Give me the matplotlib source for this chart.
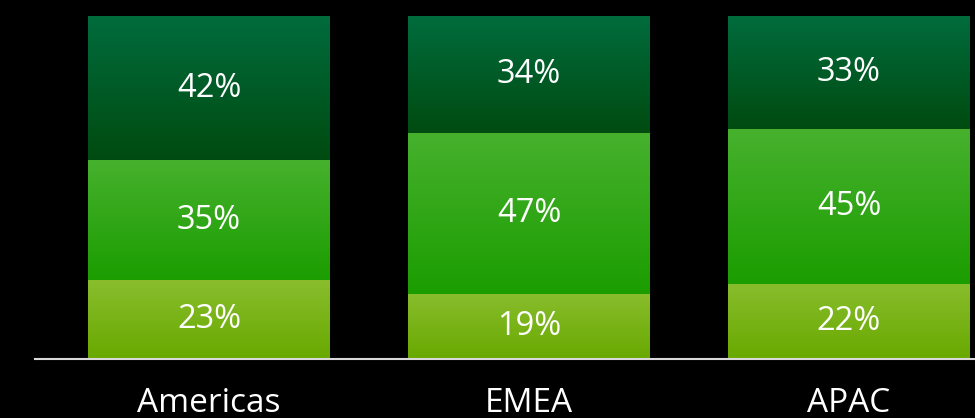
import numpy as np
import matplotlib.pyplot as plt
from matplotlib.colors import LinearSegmentedColormap
from matplotlib.patches import Rectangle

regions = ['Americas', 'EMEA', 'APAC']
bottom_share = [23, 19, 22]
middle_share = [35, 47, 45]
top_share = [42, 34, 33]

# (top colour, bottom colour) for each segment's vertical gradient
grad_bottom = ('#89bd2d', '#68a900')
grad_middle = ('#47b12e', '#1b9d00')
grad_top = ('#006c3d', '#004b10')

plt.rcParams['font.family'] = ['Open Sans', 'DejaVu Sans']

fig = plt.figure(figsize=(9.75, 4.18), dpi=100, facecolor='black')
ax = fig.add_axes([35 / 975, 59 / 418, 940 / 975, 343 / 418])
ax.set_facecolor('black')

x = np.arange(len(regions))
width = 0.756
grad = np.linspace(0, 1, 256).reshape(-1, 1)


def gradient_bar(xc, y0, h, colors):
    cmap = LinearSegmentedColormap.from_list('g', [colors[1], colors[0]])
    rect = Rectangle((xc - width / 2, y0), width, h, facecolor='none', edgecolor='none')
    ax.add_patch(rect)
    im = ax.imshow(grad, cmap=cmap, aspect='auto', origin='lower',
                   extent=(xc - width / 2, xc + width / 2, y0, y0 + h))
    im.set_clip_path(rect)
    ax.text(xc, y0 + h / 2, f'{h:.0f}%', color='white', fontsize=23.5,
            ha='center', va='center')


for i in range(len(regions)):
    b, m, t = bottom_share[i], middle_share[i], top_share[i]
    gradient_bar(x[i], 0, b, grad_bottom)
    gradient_bar(x[i], b, m, grad_middle)
    gradient_bar(x[i], b + m, t, grad_top)

ax.set_xlim(-0.544, 2.394)
ax.set_ylim(0, 100)
ax.axhline(0, color='#d9d9d9', lw=1.5, clip_on=False)
for s in ax.spines.values():
    s.set_visible(False)
ax.set_yticks([])
ax.set_xticks(x)
ax.set_xticklabels(regions, color='white', fontsize=24)
ax.tick_params(axis='x', length=0, pad=20)

fig.savefig('out.png', dpi=100, facecolor='black')
